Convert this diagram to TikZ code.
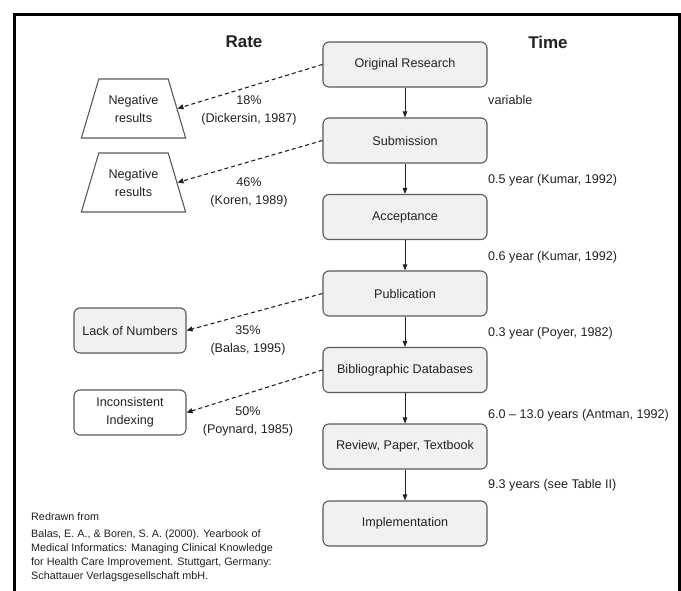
\documentclass[tikz,border=0pt]{standalone}
\usepackage{fontspec}
\setmainfont{Liberation Sans}
\usetikzlibrary{arrows.meta,shapes.geometric}
\definecolor{boxline}{HTML}{5A5A5A}
\definecolor{boxfill}{HTML}{F1F1F1}
\definecolor{ink}{HTML}{222222}
\begin{document}
\begin{tikzpicture}[x=1pt,y=-1pt,
  every node/.style={text=ink},
  body/.style={font=\fontsize{12.6}{18}\selectfont},
  mainbox/.style={body,draw=boxline,fill=boxfill,line width=1.1pt,rounded corners=6pt,
    minimum width=164pt,minimum height=45pt,inner sep=0pt},
  sidebox/.style={body,draw=boxline,line width=1.1pt,rounded corners=6pt,
    minimum width=112pt,minimum height=45pt,inner sep=0pt,align=center},
  trap/.style={body,draw=boxline,line width=1.1pt,trapezium,trapezium stretches=true,
    minimum width=105pt,minimum height=59pt,trapezium angle=65.4,inner sep=0pt,align=center},
  flow/.style={draw=ink,line width=0.9pt,-{Triangle[length=6pt,width=4.5pt]}},
  loss/.style={draw=ink,line width=1.1pt,dash pattern=on 4pt off 3pt,-{Triangle[length=6pt,width=5pt]}},
  timelbl/.style={body,anchor=west,inner sep=0pt},
  ratelbl/.style={body,align=center,inner sep=0pt},
  title/.style={font=\fontsize{17}{20}\selectfont\bfseries}]
\useasboundingbox (0,0) rectangle (681,590);
\fill[white] (0,0) rectangle (681,590);
% outer frame (open at the bottom)
\draw[line width=3pt] (14.5,592) -- (14.5,14.5) -- (679.5,14.5) -- (679.5,592);

\node[title] (rate) at (244,42) {Rate};
\node[title] (time) at (548,42) {Time};

% main pipeline
\node[mainbox] (orig) at (405,64.5) {Original Research};
\node[mainbox] (sub)  at (405,140.5) {Submission};
\node[mainbox] (acc)  at (405,217) {Acceptance};
\node[mainbox] (pub)  at (405,293.5) {Publication};
\node[mainbox] (bib)  at (405,370) {Bibliographic Databases};
\node[mainbox] (rev)  at (405,446.5) {Review, Paper, Textbook};
\node[mainbox] (impl) at (405,523.5) {Implementation};

\draw[flow] (orig) -- (sub);
\draw[flow] (sub) -- (acc);
\draw[flow] (acc) -- (pub);
\draw[flow] (pub) -- (bib);
\draw[flow] (bib) -- (rev);
\draw[flow] (rev) -- (impl);

% time spans
\node[timelbl] (t1) at (488,100) {variable};
\node[timelbl] (t2) at (488,180) {0.5 year (Kumar, 1992)};
\node[timelbl] (t3) at (488,257) {0.6 year (Kumar, 1992)};
\node[timelbl] (t4) at (488,333) {0.3 year (Poyer, 1982)};
\node[timelbl] (t5) at (488,415) {6.0 – 13.0 years (Antman, 1992)};
\node[timelbl] (t6) at (488,485) {9.3 years (see Table II)};

% losses along the way
\node[trap] (neg1) at (133.5,108.5) {Negative\\results};
\node[trap] (neg2) at (133.5,182.5) {Negative\\results};
\node[sidebox,fill=boxfill] (lack) at (130,330.5) {Lack of Numbers};
\node[sidebox,fill=white] (index) at (130,412.5) {Inconsistent\\Indexing};

\draw[loss] (orig.west) -- (neg1.east);
\draw[loss] (sub.west) -- (neg2.east);
\draw[loss] (pub.west) -- (lack.east);
\draw[loss] (bib.west) -- (index.east);

\node[ratelbl] (r1) at (249,110) {18\%\\(Dickersin, 1987)};
\node[ratelbl] (r2) at (249,192) {46\%\\(Koren, 1989)};
\node[ratelbl] (r3) at (248,340) {35\%\\(Balas, 1995)};
\node[ratelbl] (r4) at (248,421.5) {50\%\\(Poynard, 1985)};

% source note
\node[anchor=north west,inner sep=0pt,align=left,font=\fontsize{10.8}{14}\selectfont] (src) at (31,512)
  {Redrawn from\\[3pt]
   Balas, E. A., \& Boren, S. A. (2000). Yearbook of\\
   Medical Informatics: Managing Clinical Knowledge\\
   for Health Care Improvement. Stuttgart, Germany:\\
   Schattauer Verlagsgesellschaft mbH.};
\end{tikzpicture}
\end{document}
